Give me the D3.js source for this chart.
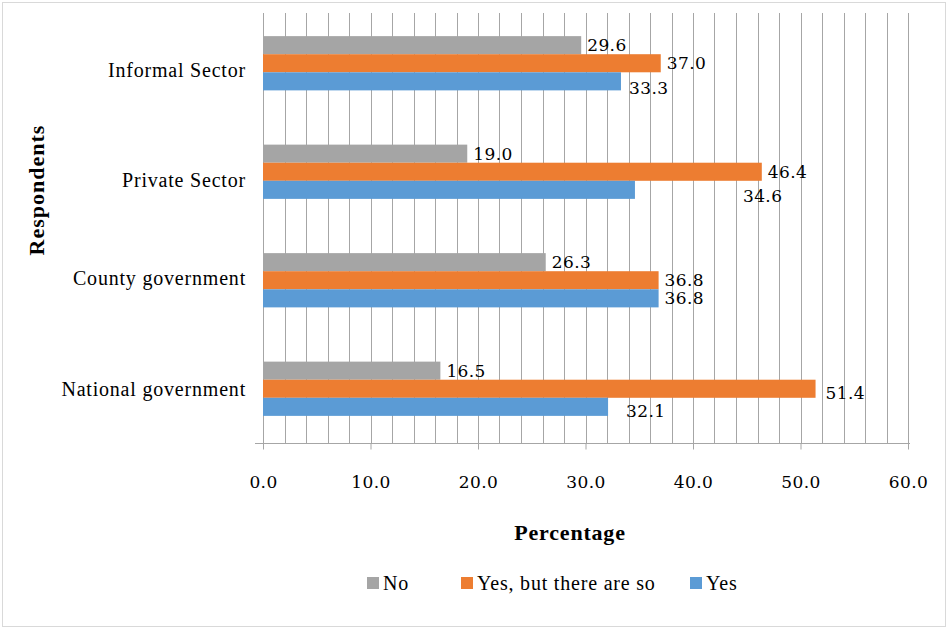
<!DOCTYPE html>
<html>
<head>
<meta charset="utf-8">
<script src="https://cdn.jsdelivr.net/npm/d3@7"></script>
<style>
  html, body { margin: 0; padding: 0; background: #fff; }
  svg { display: block; }
  text { font-family: "Liberation Serif", "DejaVu Serif", serif; fill: #000; }
  text.num { font-family: "DejaVu Serif", "Liberation Serif", serif; }
</style>
</head>
<body>
<svg id="chart" width="948" height="629"></svg>
<script>
// Respondent groups, top to bottom
const categories = ["Informal Sector", "Private Sector", "County government", "National government"];
// Series, in legend order (drawn top to bottom inside each group)
const seriesNames = ["No", "Yes, but there are so", "Yes"];
const seriesColors = ["#A5A5A5", "#ED7D31", "#5B9BD5"];
// Percentages per category, one array per series
const noValues = [29.6, 19.0, 26.3, 16.5];
const yesButValues = [37.0, 46.4, 36.8, 51.4];
const yesValues = [33.3, 34.6, 36.8, 32.1];
const xTicks = [0, 10, 20, 30, 40, 50, 60];

// Hand-placed nudges [dx, dy] for some value labels (per category, per series)
const labelNudges = [
  [[0, 0], [0, 0], [2, 7]],
  [[0, 0], [0, 0], [102, 6]],
  [[0, 0], [0, 0], [0, 0]],
  [[0, 0], [4, 4], [12, 4]]
];
// Vertical nudges for the category labels
const categoryNudges = [7, 8, -2, 0];

const seriesValues = [noValues, yesButValues, yesValues];

const svg = d3.select("#chart");
const W = 948, H = 629;
const margin = { left: 263, right: 40, top: 13, bottom: 186 };
const plotW = W - margin.left - margin.right;
const plotH = H - margin.top - margin.bottom;

// Outer frame
svg.append("rect")
  .attr("x", 2.5).attr("y", 2.5)
  .attr("width", W - 5).attr("height", H - 5)
  .attr("fill", "#fff").attr("stroke", "#D9D9D9").attr("stroke-width", 1);

const g = svg.append("g").attr("transform", `translate(${margin.left},${margin.top})`);

const x = d3.scaleLinear().domain([0, 60]).range([0, plotW]);
const y = d3.scaleBand().domain(categories).range([-4, plotH]).paddingInner(0.5).paddingOuter(0.25);
const ySub = d3.scaleBand().domain(seriesNames).range([0, y.bandwidth()]);

// Vertical gridlines every 2 units
const gridVals = d3.range(0, 60.001, 2);
g.append("g").selectAll("line")
  .data(gridVals)
  .join("line")
  .attr("x1", d => Math.round(x(d)) + 0.5)
  .attr("x2", d => Math.round(x(d)) + 0.5)
  .attr("y1", 0).attr("y2", plotH)
  .attr("stroke", "#A6A6A6").attr("stroke-width", 1);

// Bars
const groups = g.append("g").selectAll("g")
  .data(categories)
  .join("g")
  .attr("transform", d => `translate(0,${y(d)})`);

groups.selectAll("rect")
  .data((c, ci) => seriesNames.map((s, si) => ({ s, si, ci, v: seriesValues[si][ci] })))
  .join("rect")
  .attr("x", x(0))
  .attr("y", d => ySub(d.s))
  .attr("width", d => x(d.v) - x(0))
  .attr("height", ySub.bandwidth())
  .attr("fill", (d) => seriesColors[d.si]);

// Value labels
groups.selectAll("text.num")
  .data((c, ci) => seriesNames.map((s, si) => ({ s, si, ci, v: seriesValues[si][ci] })))
  .join("text")
  .attr("class", "num")
  .attr("x", d => x(d.v) + 6 + labelNudges[d.ci][d.si][0])
  .attr("y", d => ySub(d.s) + ySub.bandwidth() / 2 + labelNudges[d.ci][d.si][1])
  .attr("dy", "0.35em")
  .attr("font-size", 17)
  .attr("letter-spacing", 0.4)
  .text(d => d.v.toFixed(1));

// Category labels
g.append("g").selectAll("text")
  .data(categories)
  .join("text")
  .attr("x", -17)
  .attr("y", (d, i) => y(d) + y.bandwidth() / 2 + categoryNudges[i])
  .attr("dy", "0.35em")
  .attr("text-anchor", "end")
  .attr("font-size", 20)
  .attr("letter-spacing", 0.8)
  .text(d => d);

// Bottom axis
const xAxis = d3.axisBottom(x).tickValues(xTicks).tickSize(6).tickPadding(26)
  .tickFormat(d => d.toFixed(1));
const ax = g.append("g").attr("transform", `translate(0,${plotH + 0.5})`).call(xAxis);
ax.select(".domain").remove();
ax.append("line")
  .attr("x1", -8).attr("x2", plotW + 2)
  .attr("y1", 0).attr("y2", 0)
  .attr("stroke", "#A6A6A6");
ax.selectAll(".tick line").attr("stroke", "#A6A6A6");
ax.selectAll(".tick text")
  .attr("class", "num")
  .attr("font-size", 17)
  .attr("letter-spacing", 0.4)
  .attr("fill", "#000");

// Axis titles
svg.append("text")
  .attr("x", 570).attr("y", 540)
  .attr("text-anchor", "middle")
  .attr("font-size", 22).attr("font-weight", "bold")
  .attr("letter-spacing", 0.8)
  .text("Percentage");

svg.append("text")
  .attr("transform", "translate(44,190) rotate(-90)")
  .attr("text-anchor", "middle")
  .attr("font-size", 22).attr("font-weight", "bold")
  .attr("letter-spacing", 1)
  .text("Respondents");

// Legend
const legendX = [367, 461, 690];
const legend = svg.append("g").selectAll("g")
  .data(seriesNames)
  .join("g")
  .attr("transform", (d, i) => `translate(${legendX[i]},577)`);
legend.append("rect")
  .attr("width", 12).attr("height", 12)
  .attr("fill", (d, i) => seriesColors[i]);
legend.append("text")
  .attr("x", 16).attr("y", 6)
  .attr("dy", "0.35em")
  .attr("font-size", 20)
  .attr("letter-spacing", 0.8)
  .text(d => d);
</script>
</body>
</html>
